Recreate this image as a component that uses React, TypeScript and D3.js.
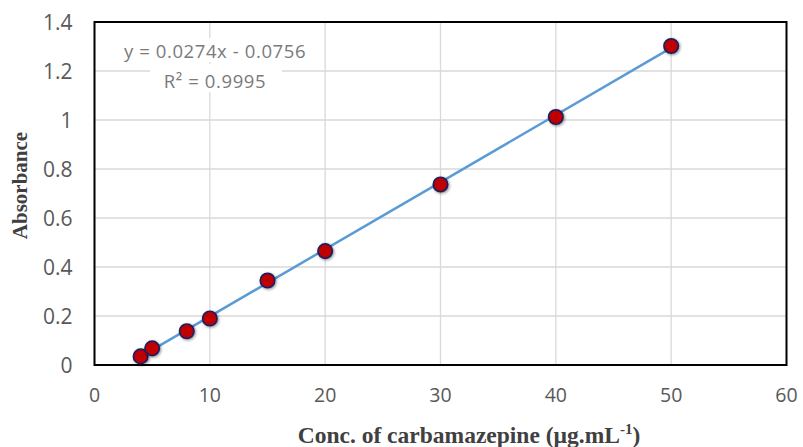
import React from "react";
import * as d3 from "d3";

const concentrations = [4, 5, 8, 10, 15, 20, 30, 40, 50];
const absorbances = [0.035, 0.068, 0.138, 0.19, 0.345, 0.465, 0.737, 1.012, 1.302];
const xTicks = [0, 10, 20, 30, 40, 50, 60];
const yTicks = [0, 0.2, 0.4, 0.6, 0.8, 1, 1.2, 1.4];
const slope = 0.0274;
const intercept = -0.0756;
const equationLines = ["y = 0.0274x - 0.0756", "R² = 0.9995"];

export default function App() {
  const W = 803, H = 447;
  const left = 94.5, right = 786.5, top = 22, bottom = 365;
  const x = d3.scaleLinear().domain([0, 60]).range([left, right]);
  const y = d3.scaleLinear().domain([0, 1.4]).range([bottom, top]);
  const xMin = d3.min(concentrations)!;
  const xMax = d3.max(concentrations)!;
  const trend = d3.line<number>().x((d) => x(d)).y((d) => y(slope * d + intercept));
  const tickFont = "'Open Sans', 'Liberation Sans', sans-serif";
  const serif = "'Liberation Serif', 'DejaVu Serif', serif";
  return (
    <svg width={W} height={H} style={{ position: "absolute", left: 0, top: 0, background: "#fff" }}>
      <defs>
        <filter id="sh" x="-50%" y="-50%" width="200%" height="200%">
          <feGaussianBlur in="SourceAlpha" stdDeviation="1.8" />
          <feOffset dx="0.8" dy="0.8" result="b" />
          <feComponentTransfer><feFuncA type="linear" slope="0.45" /></feComponentTransfer>
          <feMerge><feMergeNode /><feMergeNode in="SourceGraphic" /></feMerge>
        </filter>
      </defs>
      {xTicks.map((t) => (
        <line key={"gx" + t} x1={x(t)} x2={x(t)} y1={top} y2={bottom} stroke="#d9d9d9" strokeWidth={1.3} />
      ))}
      {yTicks.map((t) => (
        <line key={"gy" + t} x1={left} x2={right} y1={y(t)} y2={y(t)} stroke="#d9d9d9" strokeWidth={1.3} />
      ))}
      <rect x={left} y={top} width={right - left} height={bottom - top} fill="none" stroke="#000" strokeWidth={2} />
      <rect x={112} y={38} width={208} height={24} fill="#fff" />
      <rect x={150} y={64} width={132} height={28} fill="#fff" />
      {equationLines.map((s, i) => (
        <text key={s} x={215} y={58 + i * 30} textAnchor="middle" fontFamily={tickFont} fontSize={18.5} fill="#7a7a7a" letterSpacing={0.6}>
          {s}
        </text>
      ))}
      <path d={trend([xMin, xMax]) || ""} stroke="#5b9bd5" strokeWidth={2.5} fill="none" />
      {concentrations.map((c, i) => (
        <circle key={"p" + i} cx={x(c)} cy={y(absorbances[i])} r={7.2} fill="#c00000" stroke="#1f1f5f" strokeWidth={1.7} filter="url(#sh)" />
      ))}
      {yTicks.map((t) => (
        <text key={"ty" + t} x={72.5} y={y(t) + 7.5} textAnchor="end" fontFamily={tickFont} fontSize={21} fill="#595959">
          {d3.format("~g")(t)}
        </text>
      ))}
      {xTicks.map((t) => (
        <text key={"tx" + t} x={x(t)} y={401.5} textAnchor="middle" fontFamily={tickFont} fontSize={19.5} fill="#595959">
          {t}
        </text>
      ))}
      <text transform={`translate(27,185.5) rotate(-90)`} textAnchor="middle" fontFamily={serif} fontWeight="bold" fontSize={21} fill="#404040">
        Absorbance
      </text>
      <text x={469} y={443} textAnchor="middle" fontFamily={serif} fontWeight="bold" fontSize={23.5} fill="#404040">
        Conc. of carbamazepine (µg.mL<tspan dy={-9} fontSize={15}>-1</tspan><tspan dy={9}>)</tspan>
      </text>
    </svg>
  );
}
